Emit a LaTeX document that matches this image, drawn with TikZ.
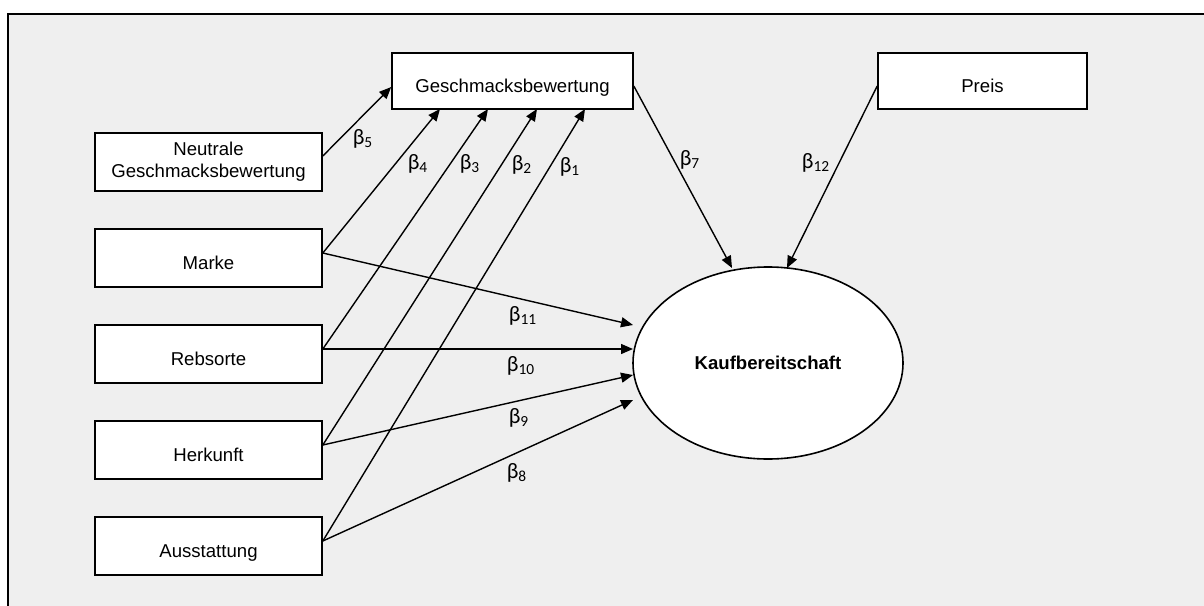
\documentclass[tikz,border=0pt]{standalone}
\usepackage{fontspec}
\setmainfont{Liberation Sans}
\newfontfamily\betafont{Carlito}
\usetikzlibrary{arrows.meta,shapes.geometric}
\definecolor{bggray}{RGB}{239,239,239}
\begin{document}
\begin{tikzpicture}[x=0.5pt,y=-0.5pt,
  basebox/.style={draw=black,line width=0.8pt,fill=white,inner sep=0pt,
    minimum width=113.5pt,minimum height=29pt,
    font=\fontsize{9.3pt}{11pt}\selectfont},
  box/.style={basebox,text height=12pt,text depth=0.5pt},
  arr/.style={line width=0.7pt,-{Triangle[length=6pt,width=5pt]}},
  beta/.style={font=\betafont\fontsize{11pt}{13pt}\selectfont,inner sep=0pt}]
\clip (0,0) rectangle (1204,605);
\fill[white] (0,0) rectangle (1204,605);
\fill[bggray] (8,14) rectangle (1230,630);
\draw[line width=1.2pt] (8,630) -- (8,14) -- (1230,14);

% nodes
\node[box,minimum width=120.5pt,minimum height=28pt] (G) at (512.5,81) {Geschmacksbewertung};
\node[box,minimum width=104.5pt,minimum height=28pt] (P) at (982.5,81) {Preis};
\node[basebox,align=center] (N) at (208.5,162) {Neutrale\\Geschmacksbewertung};
\node[box] (M) at (208.5,258) {Marke};
\node[box] (R) at (208.5,354) {Rebsorte};
\node[box] (H) at (208.5,450) {Herkunft};
\node[box] (A) at (208.5,546) {Ausstattung};
\node[draw,ellipse,line width=0.8pt,fill=white,minimum width=135pt,minimum height=96pt,
  inner sep=0pt,font=\fontsize{9.3pt}{11pt}\selectfont\bfseries] (K) at (768,363) {Kaufbereitschaft};

% arrow tips
\coordinate (g4) at (440,109);
\coordinate (g3) at (488,109);
\coordinate (g2) at (537,109);
\coordinate (g1) at (585,109);
\coordinate (k7) at (732,268);
\coordinate (k12) at (787,268);
\coordinate (k11) at (633,325);
\coordinate (k10) at (633,349);
\coordinate (k9) at (633,375);
\coordinate (k8) at (633,400);

% connectors
\draw[arr] ([yshift=3pt]N.east) -- ([yshift=-3pt]G.west);
\draw[arr] ([yshift=2.5pt]M.east) -- (g4);
\draw[arr] ([yshift=2.5pt]R.east) -- (g3);
\draw[arr] ([yshift=2.5pt]H.east) -- (g2);
\draw[arr] ([yshift=2.5pt]A.east) -- (g1);
\draw[arr] ([yshift=-2.5pt]G.east) -- (k7);
\draw[arr] ([yshift=-2.5pt]P.west) -- (k12);
\draw[arr] ([yshift=2.5pt]M.east) -- (k11);
\draw[arr] ([yshift=2.5pt]R.east) -- (k10);
\draw[arr] ([yshift=2.5pt]H.east) -- (k9);
\draw[arr] ([yshift=2.5pt]A.east) -- (k8);

% labels
\node[beta] (b5) at (363,139) {β\textsubscript{5}};
\node[beta] (b4) at (418,164) {β\textsubscript{4}};
\node[beta] (b3) at (470,164) {β\textsubscript{3}};
\node[beta] (b2) at (522,165) {β\textsubscript{2}};
\node[beta] (b1) at (570,167) {β\textsubscript{1}};
\node[beta] (b7) at (690,160) {β\textsubscript{7}};
\node[beta] (b12) at (816,163) {β\textsubscript{12}};
\node[beta] (b11) at (523,316) {β\textsubscript{11}};
\node[beta] (b10) at (521,366) {β\textsubscript{10}};
\node[beta] (b9) at (519,418) {β\textsubscript{9}};
\node[beta] (b8) at (517,473) {β\textsubscript{8}};
\end{tikzpicture}
\end{document}
